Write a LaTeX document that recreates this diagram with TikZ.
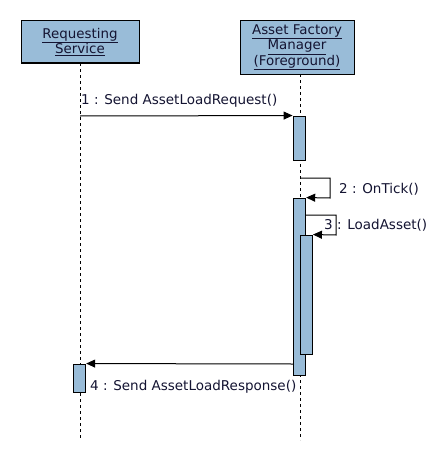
\documentclass[tikz,border=0pt]{standalone}
\usepackage{fontspec}
\setmainfont{DejaVu Sans}
\usetikzlibrary{arrows.meta}
\definecolor{boxfill}{RGB}{153,188,216}
\definecolor{txt}{RGB}{20,20,50}
\tikzset{
  x=1pt, y=-1pt,
  header/.style={draw=black, line width=1pt, fill=boxfill, inner sep=0pt, align=center,
    text=txt, font=\fontsize{13.4}{15.5}\selectfont},
  act/.style={draw=black, line width=0.9pt, fill=boxfill, inner sep=0pt, minimum width=12.5pt},
  life/.style={black, line width=0.8pt, dash pattern=on 3pt off 3pt},
  msg/.style={black, line width=1pt, -{Triangle[length=9pt,width=8pt]}},
  lbl/.style={text=txt, font=\fontsize{13.5}{15}\selectfont, inner sep=0pt, anchor=west}
}
\begin{document}
\begin{tikzpicture}
\useasboundingbox[fill=white] (0,0) rectangle (446,460);
% headers
\node[header, minimum width=118pt, minimum height=42pt] (rs) at (80,42)
  {\underline{Requesting}\\\underline{Service}};
\node[header, minimum width=114pt, minimum height=53pt] (afm) at (297,47.5)
  {\underline{Asset Factory}\\\underline{Manager}\\\underline{(Foreground)}};
% lifeline ends
\coordinate (rsTop) at (80,63);
\coordinate (rsEnd) at (80,440);
\coordinate (afmTop) at (300,74);
\coordinate (afmEnd) at (300,440);
\draw[life] (rsTop) -- (rsEnd);
\draw[life] (afmTop) -- (afmEnd);
% activations
\node[act, minimum height=44pt] (a1) at (299.25,138) {};
\node[act, minimum height=177pt] (a2) at (299.5,286.5) {};
\node[act, minimum height=119pt] (a3) at (306.25,294.5) {};
\node[act, minimum height=28pt] (a4) at (79.5,378) {};
% message 1
\coordinate (m1s) at (80,116);
\draw[msg] (m1s) -- (a1.north west);
\node[lbl] (l1) at (81,101) {1 : Send AssetLoadRequest()};
% message 2 (self)
\coordinate (m2s) at (300,178);
\coordinate (m2r) at (330,178);
\coordinate (m2d) at (330,198);
\draw[msg] (m2s) -- (m2r) -- (m2d) -- (a2.north east);
\node[lbl] (l2) at (339,189) {2 : OnTick()};
% message 3 (self)
\coordinate (m3s) at (306,215);
\coordinate (m3r) at (336,215);
\coordinate (m3d) at (336,235);
\draw[msg] (m3s) -- (m3r) -- (m3d) -- (a3.north east);
\node[lbl] (l3) at (324,225) {3 : LoadAsset()};
% message 4
\coordinate (m4s) at (293,364);
\draw[msg] (m4s) -- (a4.north east);
\node[lbl] (l4) at (90,387) {4 : Send AssetLoadResponse()};
\end{tikzpicture}
\end{document}
